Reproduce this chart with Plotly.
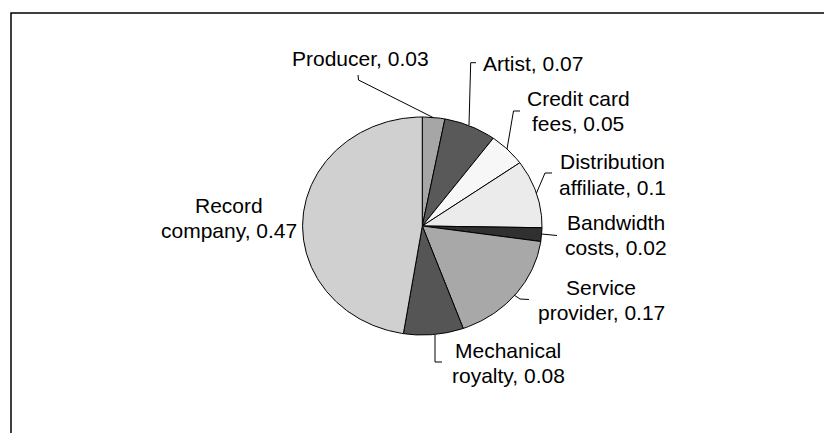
import numpy as np
import plotly.graph_objects as go

# Revenue split per download
categories = ["Producer", "Artist", "Credit card fees", "Distribution affiliate",
              "Bandwidth costs", "Service provider", "Mechanical royalty", "Record company"]
shares = [0.03, 0.07, 0.05, 0.1, 0.02, 0.17, 0.08, 0.47]
label_lines = [["Producer, 0.03"], ["Artist, 0.07"], ["Credit card", "fees, 0.05"],
               ["Distribution", "affiliate, 0.1"], ["Bandwidth", "costs, 0.02"],
               ["Service", "provider, 0.17"], ["Mechanical", "royalty, 0.08"],
               ["Record", "company, 0.47"]]
fills = ["#a6a6a6", "#595959", "#f7f7f7", "#ebebeb", "#303030", "#a8a8a8", "#555555", "#d0d0d0"]

W, H = 824, 433
CX, CY, RX, RY = 422.3, 226.0, 119.7, 109.0
LINE_GAP = 25.5

# label anchor (x, centre y of first line, align) and leader line points, in pixels
label_pos = [(360.5, 58, "center"), (481, 63, "left"), (578, 98, "center"),
             (612, 161.5, "center"), (616, 222, "center"), (601, 287, "center"),
             (508, 350, "center"), (229, 205, "center")]
leaders = [[(358, 75), (358.5, 80), (433, 117.5)],
           [(476, 62.7), (470.7, 62.7), (469, 125)],
           [(520, 111), (513.5, 111), (507, 149)],
           [(552, 173), (545, 173), (536.5, 193)],
           [(541.5, 234), (557, 235.5)],
           [(514, 295), (520, 299), (529, 299.5)],
           [(435, 335), (435, 362), (442, 362)],
           None]

fig = go.Figure()
total = sum(shares)
start = 0.0
for name, v, col in zip(categories, shares, fills):
    a0 = start / total * 2 * np.pi
    a1 = (start + v) / total * 2 * np.pi
    t = np.linspace(a0, a1, max(8, int(v * 400)))
    xs = [CX] + list(CX + RX * np.sin(t)) + [CX]
    ys = [CY] + list(CY - RY * np.cos(t)) + [CY]
    fig.add_trace(go.Scatter(x=xs, y=ys, mode="lines", fill="toself", fillcolor=col,
                             line=dict(color="#000000", width=1), name=name,
                             hoverinfo="name", showlegend=False))
    start += v

for pts in leaders:
    if pts is None:
        continue
    fig.add_trace(go.Scatter(x=[p[0] for p in pts], y=[p[1] for p in pts], mode="lines",
                             line=dict(color="#000000", width=1), hoverinfo="skip",
                             showlegend=False))

for lines, (lx, ly, al) in zip(label_lines, label_pos):
    for i, line in enumerate(lines):
        fig.add_annotation(x=lx, y=ly + i * LINE_GAP, xref="x", yref="y", text=line,
                           showarrow=False, xanchor="left" if al == "left" else "center",
                           yanchor="middle",
                           font=dict(family="Liberation Sans, Arial, sans-serif", size=21,
                                     color="#000000"))

# chart area border
fig.add_shape(type="rect", xref="paper", yref="paper", x0=11 / W, x1=1.05,
              y0=1 - 13 / H, y1=-0.05, line=dict(color="#000000", width=1.5),
              fillcolor="rgba(0,0,0,0)")

fig.update_xaxes(range=[0, W], visible=False, fixedrange=True)
fig.update_yaxes(range=[H, 0], visible=False, fixedrange=True)
fig.update_layout(width=W, height=H, margin=dict(l=0, r=0, t=0, b=0),
                  paper_bgcolor="#ffffff", plot_bgcolor="#ffffff")

fig.write_html("out.html")
